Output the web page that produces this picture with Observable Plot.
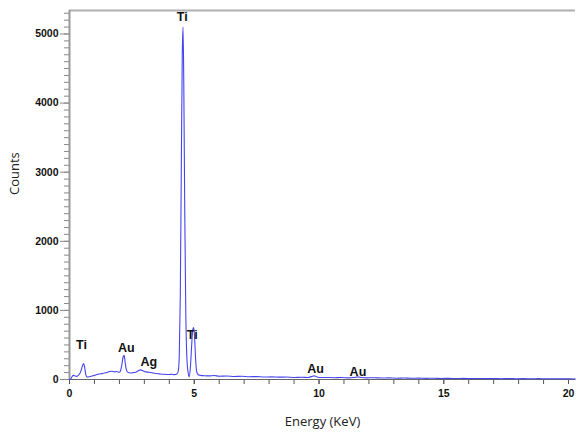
<!DOCTYPE html>
<html>
<head>
<meta charset="utf-8">
<script src="https://cdn.jsdelivr.net/npm/d3@7"></script>
<script src="https://cdn.jsdelivr.net/npm/@observablehq/plot@0.6"></script>
<style>
  html, body { margin: 0; padding: 0; background: #fff; }
  #chart { width: 577px; height: 433px; }
</style>
</head>
<body>
<div id="chart"></div>
<script>
// Spectrum (Energy keV, Counts)
const energy = [
  0.00, 0.05, 0.10, 0.15, 0.20, 0.28, 0.35, 0.42, 0.48, 0.53, 0.57, 0.61, 0.66, 0.72, 0.80, 0.90,
  1.00, 1.10, 1.20, 1.30, 1.40, 1.50, 1.60, 1.70, 1.80, 1.90, 2.00, 2.05, 2.10, 2.15, 2.19, 2.23,
  2.28, 2.35, 2.45, 2.55, 2.65, 2.75, 2.85, 2.95, 3.05, 3.20, 3.40, 3.60, 3.80, 4.00, 4.10, 4.20,
  4.30, 4.36, 4.40, 4.44, 4.48, 4.52, 4.55, 4.58, 4.62, 4.66, 4.70, 4.75, 4.80, 4.85, 4.90, 4.94,
  4.98, 5.02, 5.06, 5.10, 5.16, 5.25, 5.40, 5.60, 5.80, 6.00, 6.30, 6.60, 6.90, 7.20, 7.50, 7.80,
  8.10, 8.40, 8.70, 9.00, 9.30, 9.55, 9.70, 9.80, 9.90, 10.05, 10.30, 10.60, 10.90, 11.20, 11.40, 11.55,
  11.70, 11.90, 12.20, 12.50, 12.80, 13.10, 13.40, 13.70, 14.00, 14.30, 14.60, 14.90, 15.20, 15.50, 15.80, 16.10,
  16.40, 16.70, 17.00, 17.30, 17.60, 17.90, 18.20, 18.50, 18.80, 19.10, 19.40, 19.70, 20.00, 20.28
];
const counts = [
  0, 10, 40, 60, 55, 45, 60, 90, 150, 210, 230, 170, 60, 35, 40, 50,
  60, 72, 80, 85, 95, 100, 115, 120, 110, 115, 105, 130, 220, 330, 350, 250,
  140, 100, 95, 100, 105, 125, 140, 125, 110, 105, 90, 82, 75, 72, 76, 70,
  80, 120, 350, 1200, 3000, 4700, 5100, 4300, 2400, 1000, 350, 110, 40, 200, 520, 720,
  750, 560, 260, 110, 70, 60, 55, 52, 58, 48, 50, 44, 46, 40, 42, 36,
  38, 34, 36, 30, 32, 30, 42, 52, 40, 28, 30, 26, 28, 24, 30, 38,
  28, 24, 25, 21, 23, 19, 22, 18, 20, 17, 18, 15, 17, 14, 16, 13,
  15, 12, 14, 11, 13, 11, 12, 10, 12, 10, 11, 9, 10, 8
];

// Peak labels
const labelText = ["Ti", "Au", "Ag", "Ti", "Ti", "Au", "Au"];
const labelEnergy = [0.48, 2.28, 3.18, 4.52, 4.92, 9.86, 11.56];
const labelCounts = [499, 455, 257, 5253, 643, 147, 113];

// Ticks
const xMajor = [0, 5, 10, 15, 20];
const xMinor = d3.range(0, 21, 1);
const yMajor = [0, 1000, 2000, 3000, 4000, 5000];
const yMinor = d3.range(0, 5301, 100);

const spectrum = energy.map((e, i) => ({e, c: counts[i]}));
const labels = labelText.map((t, i) => ({t, e: labelEnergy[i], c: labelCounts[i]}));

const xMax = 20.28, yMax = 5340;

const plot = Plot.plot({
  width: 577,
  height: 433,
  marginLeft: 69,
  marginRight: 2,
  marginTop: 10,
  marginBottom: 54,
  style: {fontFamily: "Liberation Sans, Arial, sans-serif", background: "#fff"},
  x: {domain: [0, xMax]},
  y: {domain: [0, yMax]},
  marks: [
    Plot.ruleY([yMax], {stroke: "#b0b0b0", strokeWidth: 2}),
    Plot.axisY({ticks: yMinor, tickSize: 5, text: null, stroke: "#888", label: null}),
    Plot.axisY({ticks: yMajor, tickSize: 9, tickFormat: d => String(d), stroke: "#888",
      fontWeight: "bold", fontSize: 10.5, fill: "#111", tickPadding: 2, label: null}),
    Plot.axisX({ticks: xMinor, tickSize: 5, text: null, stroke: "#555", label: null}),
    Plot.axisX({ticks: xMajor, tickSize: 5, tickFormat: d => String(d), stroke: "#555",
      fontWeight: "bold", fontSize: 10.5, fill: "#111", tickPadding: 5, label: null}),
    Plot.ruleX([0], {stroke: "#999", strokeWidth: 2}),
    Plot.ruleY([0], {stroke: "#666", strokeWidth: 1}),
    Plot.line(spectrum, {x: "e", y: "c", stroke: "#4545ee", strokeWidth: 1.1, curve: "monotone-x"}),
    Plot.text(labels, {x: "e", y: "c", text: "t", fontSize: 12.5, fontWeight: "bold", fill: "#111"}),
    Plot.text(["Energy (KeV)"], {frameAnchor: "bottom", dy: 46, fontSize: 13,
      fontFamily: "Open Sans, sans-serif", fill: "#222"}),
    Plot.text(["Counts"], {frameAnchor: "left", dx: -55, rotate: -90, fontSize: 13,
      fontFamily: "Open Sans, sans-serif", fill: "#222"})
  ]
});
document.getElementById("chart").appendChild(plot);
</script>
</body>
</html>
